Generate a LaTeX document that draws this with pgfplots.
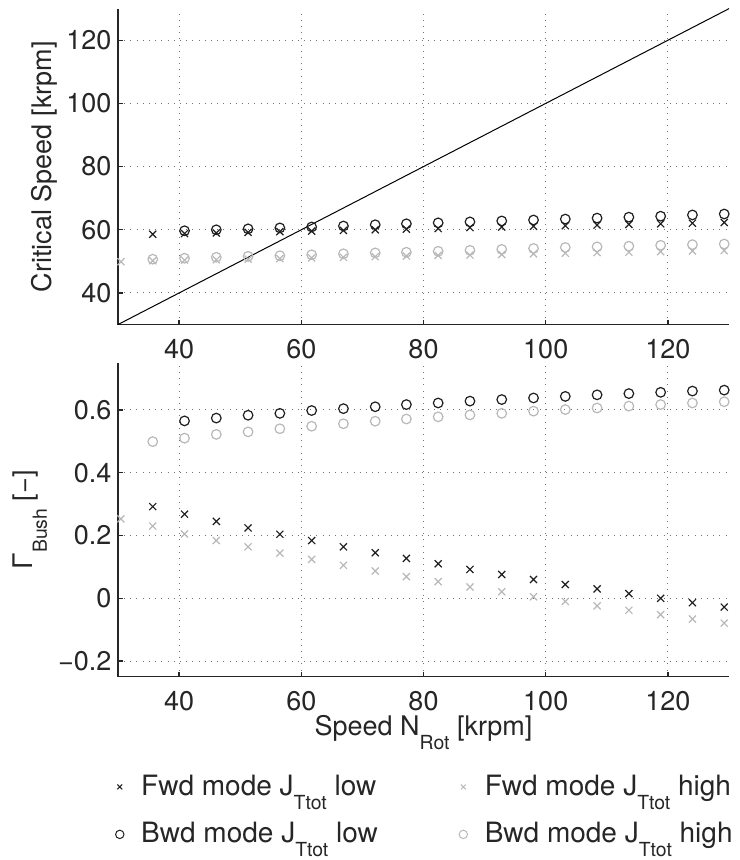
\documentclass[border=0pt]{standalone}
\usepackage{fontspec}
\setmainfont{TeX Gyre Heros}
\usepackage{pgfplots}
\pgfplotsset{compat=1.18}
\newcommand{\sub}[1]{\raisebox{-7pt}{\fontsize{9.7}{10}\selectfont #1}}
\definecolor{dk}{gray}{0.12}
\definecolor{lt}{gray}{0.72}
\begin{document}
\fontsize{13.5}{16}\selectfont
\begin{tikzpicture}
\path[use as bounding box] (0,0) rectangle (369.5pt,-430pt);
\pgfplotsset{
  common/.style={
    scale only axis, width=305.6pt, xmin=30, xmax=130,
    axis lines=left, axis line style={-, line width=0.65pt, black!85},
    xmajorgrids, ymajorgrids,
    grid style={dash pattern=on 0.5pt off 2.6pt, black!55, line width=0.5pt},
    tick align=inside, major tick length=2.5pt,
    tick style={black!85, line width=0.65pt},
    xtick={40,60,80,100,120},
    /pgf/number format/assume math mode=true,
    tick label style={font=\fontsize{13.5}{16}\selectfont, black!85},
    xticklabel style={yshift=-2.5pt},
    yticklabel style={xshift=1.5pt},
    label style={font=\fontsize{13.5}{16}\selectfont, black!85},
  },
  dkx/.style={only marks, mark=x, mark size=2.5pt, dk, mark options={line width=0.6pt}},
  dko/.style={only marks, mark=o, mark size=2.4pt, dk, mark options={line width=0.6pt}},
  ltx/.style={only marks, mark=x, mark size=2.5pt, lt, mark options={line width=0.6pt}},
  lto/.style={only marks, mark=o, mark size=2.4pt, lt, mark options={line width=0.6pt}},
  limg/.style={legend image code/.code={\path (-0.3cm,0cm) (0.3cm,0cm);
      \draw[##1] plot coordinates {(0cm,0cm)};}},
}
% ---------------- top axis
\begin{axis}[common,
  at={(58.95pt,-162.3pt)}, anchor=south west, height=158pt,
  ymin=30, ymax=130, ytick={40,60,80,100,120},
  ylabel={Critical Speed [krpm]},
  ylabel style={at={(axis description cs:-0.108,0.5)}, anchor=base},
]
\addplot[black, line width=0.5pt] coordinates {(30,30) (130,130)};
\addplot[dkx] coordinates {
(35.7,58.6)(40.9,58.8)(46.1,59.0)(51.3,59.2)(56.5,59.4)(61.7,59.6)(66.9,59.8)(72.1,60.0)(77.2,60.2)(82.4,60.4)
(87.6,60.7)(92.8,60.9)(98.0,61.1)(103.2,61.3)(108.4,61.5)(113.6,61.7)(118.8,61.9)(124.0,62.1)(129.2,62.3)};
\addplot[dko] coordinates {
(40.9,59.7)(46.1,60.0)(51.3,60.3)(56.5,60.6)(61.7,60.9)(66.9,61.2)(72.1,61.6)(77.2,61.9)(82.4,62.2)
(87.6,62.5)(92.8,62.8)(98.0,63.1)(103.2,63.4)(108.4,63.7)(113.6,64.0)(118.8,64.3)(124.0,64.7)(129.2,65.0)};
\addplot[ltx] coordinates {
(30.5,49.9)(35.7,50.2)(40.9,50.4)(46.1,50.5)(51.3,50.7)(56.5,50.9)(61.7,51.1)(66.9,51.3)(72.1,51.5)(77.2,51.7)(82.4,51.9)
(87.6,52.0)(92.8,52.2)(98.0,52.4)(103.2,52.6)(108.4,52.8)(113.6,52.9)(118.8,53.1)(124.0,53.3)(129.2,53.4)};
\addplot[lto] coordinates {
(35.7,50.7)(40.9,51.0)(46.1,51.3)(51.3,51.6)(56.5,51.8)(61.7,52.1)(66.9,52.4)(72.1,52.7)(77.2,52.9)(82.4,53.2)
(87.6,53.5)(92.8,53.8)(98.0,54.1)(103.2,54.4)(108.4,54.6)(113.6,54.8)(118.8,55.1)(124.0,55.3)(129.2,55.5)};
\end{axis}
% ---------------- bottom axis
\begin{axis}[common,
  at={(58.95pt,-338.4pt)}, anchor=south west, height=157pt,
  ymin=-0.25, ymax=0.75, ytick={-0.2,0,0.2,0.4,0.6},
  yticklabels={−0.2,0,0.2,0.4,0.6},
  ylabel={Γ\sub{Bush} [−]},
  ylabel style={at={(axis description cs:-0.139,0.5)}, anchor=base},
  xlabel={Speed N\sub{Rot} [krpm]},
  xlabel style={at={(axis description cs:0.5,-0.1855)}, anchor=base},
  legend columns=2,
  legend style={at={(axis description cs:-0.036,-0.285)}, anchor=north west,
    draw=none, fill=none, font=\fontsize{14}{16}\selectfont, text=black!85,
    row sep=7.5pt, /tikz/every even column/.append style={column sep=32pt}},
  legend cell align=left,
]
\addlegendimage{limg, only marks, mark=x, mark size=1.7pt, dk, mark options={line width=0.5pt}}
\addlegendentry{Fwd mode J\sub{Ttot} low}
\addlegendimage{limg, only marks, mark=x, mark size=1.7pt, lt, mark options={line width=0.5pt}}
\addlegendentry{Fwd mode J\sub{Ttot} high}
\addlegendimage{limg, only marks, mark=o, mark size=2.1pt, dk, mark options={line width=0.5pt}}
\addlegendentry{Bwd mode J\sub{Ttot} low}
\addlegendimage{limg, only marks, mark=o, mark size=2.1pt, lt, mark options={line width=0.5pt}}
\addlegendentry{Bwd mode J\sub{Ttot} high}
\addplot[dkx, forget plot] coordinates {
(35.7,0.292)(40.9,0.268)(46.1,0.245)(51.3,0.224)(56.5,0.204)(61.7,0.184)(66.9,0.164)(72.1,0.145)(77.2,0.127)(82.4,0.110)
(87.6,0.092)(92.8,0.076)(98.0,0.060)(103.2,0.044)(108.4,0.030)(113.6,0.015)(118.8,0.000)(124.0,-0.014)(129.2,-0.028)};
\addplot[dko, forget plot] coordinates {
(40.9,0.565)(46.1,0.574)(51.3,0.583)(56.5,0.589)(61.7,0.598)(66.9,0.604)(72.1,0.610)(77.2,0.617)(82.4,0.622)
(87.6,0.628)(92.8,0.633)(98.0,0.638)(103.2,0.643)(108.4,0.648)(113.6,0.652)(118.8,0.656)(124.0,0.660)(129.2,0.663)};
\addplot[ltx, forget plot] coordinates {
(30.5,0.253)(35.7,0.230)(40.9,0.205)(46.1,0.184)(51.3,0.164)(56.5,0.144)(61.7,0.124)(66.9,0.105)(72.1,0.087)(77.2,0.069)(82.4,0.053)
(87.6,0.036)(92.8,0.021)(98.0,0.005)(103.2,-0.010)(108.4,-0.024)(113.6,-0.038)(118.8,-0.052)(124.0,-0.066)(129.2,-0.079)};
\addplot[lto, forget plot] coordinates {
(35.7,0.499)(40.9,0.510)(46.1,0.522)(51.3,0.530)(56.5,0.540)(61.7,0.548)(66.9,0.556)(72.1,0.564)(77.2,0.571)(82.4,0.578)
(87.6,0.584)(92.8,0.589)(98.0,0.596)(103.2,0.601)(108.4,0.606)(113.6,0.612)(118.8,0.617)(124.0,0.622)(129.2,0.626)};
\end{axis}
\end{tikzpicture}
\end{document}
